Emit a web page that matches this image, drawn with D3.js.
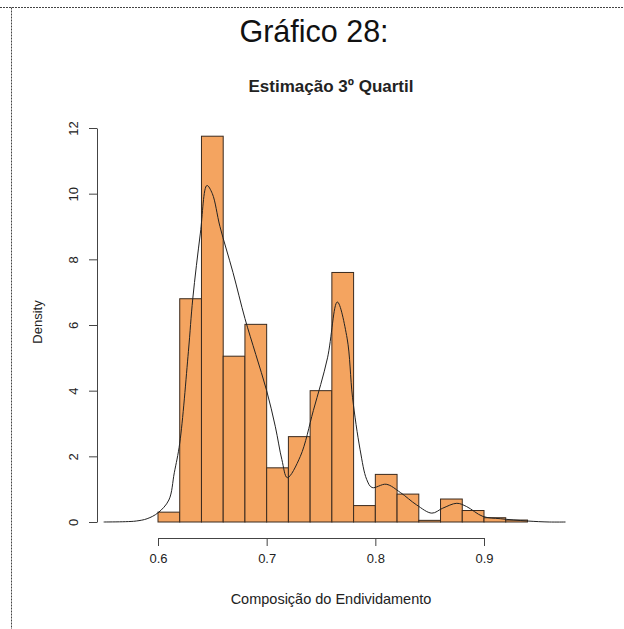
<!DOCTYPE html>
<html>
<head>
<meta charset="utf-8">
<script src="https://cdn.jsdelivr.net/npm/d3@7"></script>
<style>
  body { margin: 0; background: #fff; }
  svg { display: block; font-family: "Liberation Sans", Arial, sans-serif; }
</style>
</head>
<body>
<svg id="chart" width="624" height="629"></svg>
<script>
// histogram: bins of width 0.02 starting at 0.60, density heights
const binStarts = [0.60, 0.62, 0.64, 0.66, 0.68, 0.70, 0.72, 0.74, 0.76, 0.78, 0.80, 0.82, 0.84, 0.86, 0.88, 0.90, 0.92]
const binDensity = [0.3, 6.8, 11.75, 5.05, 6.02, 1.65, 2.6, 4.0, 7.6, 0.5, 1.45, 0.85, 0.05, 0.7, 0.35, 0.13, 0.06]
const binWidth = 0.02

// kernel density curve
const densX = [0.55, 0.57, 0.58, 0.59, 0.60, 0.61, 0.615, 0.62, 0.628, 0.632, 0.639, 0.645, 0.650, 0.657, 0.669, 0.68, 0.69, 0.70, 0.708, 0.714, 0.719, 0.731, 0.743, 0.756, 0.765, 0.774, 0.779, 0.786, 0.792, 0.797, 0.810, 0.823, 0.838, 0.852, 0.862, 0.875, 0.884, 0.899, 0.915, 0.94, 0.96, 0.975]
const densY = [0, 0.01, 0.03, 0.1, 0.28, 0.67, 1.5, 2.4, 5.2, 6.8, 8.8, 10.25, 10.0, 9.0, 7.6, 6.2, 5.1, 4.0, 2.9, 1.9, 1.35, 2.0, 3.4, 5.0, 6.7, 5.6, 3.8, 2.2, 1.3, 1.05, 1.15, 0.9, 0.52, 0.27, 0.42, 0.57, 0.47, 0.17, 0.1, 0.03, 0, 0]

const xTicks = [0.6, 0.7, 0.8, 0.9]
const yTicks = [0, 2, 4, 6, 8, 10, 12]

const svg = d3.select('#chart')

let x = d3.scaleLinear().domain([0.6, 0.9]).range([158, 484])
let y = d3.scaleLinear().domain([0, 12]).range([522, 128])

// dotted frame of the page
svg.append('path')
  .attr('d', 'M0,7.5H624M11.5,7.5V629')
  .attr('fill', 'none')
  .attr('stroke', '#444')
  .attr('stroke-dasharray', '2,1')

svg.append('text')
  .attr('x', 314).attr('y', 42)
  .attr('text-anchor', 'middle')
  .attr('font-size', 30.5)
  .attr('fill', '#111')
  .text('Gráfico 28:')

svg.append('text')
  .attr('x', 331).attr('y', 92)
  .attr('text-anchor', 'middle')
  .attr('font-size', 17)
  .attr('font-weight', 'bold')
  .attr('fill', '#222')
  .text('Estimação 3º Quartil')

// bars
svg.append('g')
  .selectAll('rect')
  .data(binStarts.map((s, i) => ({ x0: s, x1: s + binWidth, d: binDensity[i] })))
  .join('rect')
  .attr('x', d => x(d.x0))
  .attr('width', d => x(d.x1) - x(d.x0))
  .attr('y', d => y(d.d))
  .attr('height', d => y(0) - y(d.d))
  .attr('fill', '#f4a460')
  .attr('stroke', '#3a2a1e')
  .attr('stroke-width', 1)

// density line
let line = d3.line()
  .x(d => x(d[0]))
  .y(d => y(d[1]))
  .curve(d3.curveCatmullRom.alpha(0.5))

svg.append('path')
  .datum(densX.map((v, i) => [v, densY[i]]))
  .attr('d', line)
  .attr('fill', 'none')
  .attr('stroke', '#222')
  .attr('stroke-width', 1)

// x axis (R style, offset below the plot)
let xAxis = svg.append('g')
  .attr('transform', 'translate(0,538)')
  .call(d3.axisBottom(x).tickValues(xTicks).tickFormat(d3.format('.1f')).tickSize(8).tickSizeOuter(0).tickPadding(8))
xAxis.select('.domain').attr('stroke', '#444')
xAxis.selectAll('line').attr('stroke', '#444')
xAxis.selectAll('text').attr('font-size', 13).attr('fill', '#222').attr('font-family', null)

// y axis with rotated labels
let yAxis = svg.append('g')
  .attr('transform', 'translate(97,0)')
  .call(d3.axisLeft(y).tickValues(yTicks).tickSize(8).tickSizeOuter(0).tickPadding(0))
yAxis.select('.domain').attr('stroke', '#444')
yAxis.selectAll('line').attr('stroke', '#444')
yAxis.selectAll('text')
  .attr('font-size', 13).attr('fill', '#222').attr('font-family', null)
  .attr('x', null).attr('dy', null)
  .attr('text-anchor', 'middle')
  .attr('transform', 'translate(-24,0) rotate(-90)')
  .attr('dy', '0.35em')

svg.append('text')
  .attr('x', 331).attr('y', 604)
  .attr('text-anchor', 'middle')
  .attr('font-size', 14.5)
  .attr('fill', '#222')
  .text('Composição do Endividamento')

svg.append('text')
  .attr('transform', 'translate(37,322) rotate(-90)')
  .attr('text-anchor', 'middle')
  .attr('dy', '0.35em')
  .attr('font-size', 13)
  .attr('fill', '#222')
  .text('Density')
</script>
</body>
</html>
